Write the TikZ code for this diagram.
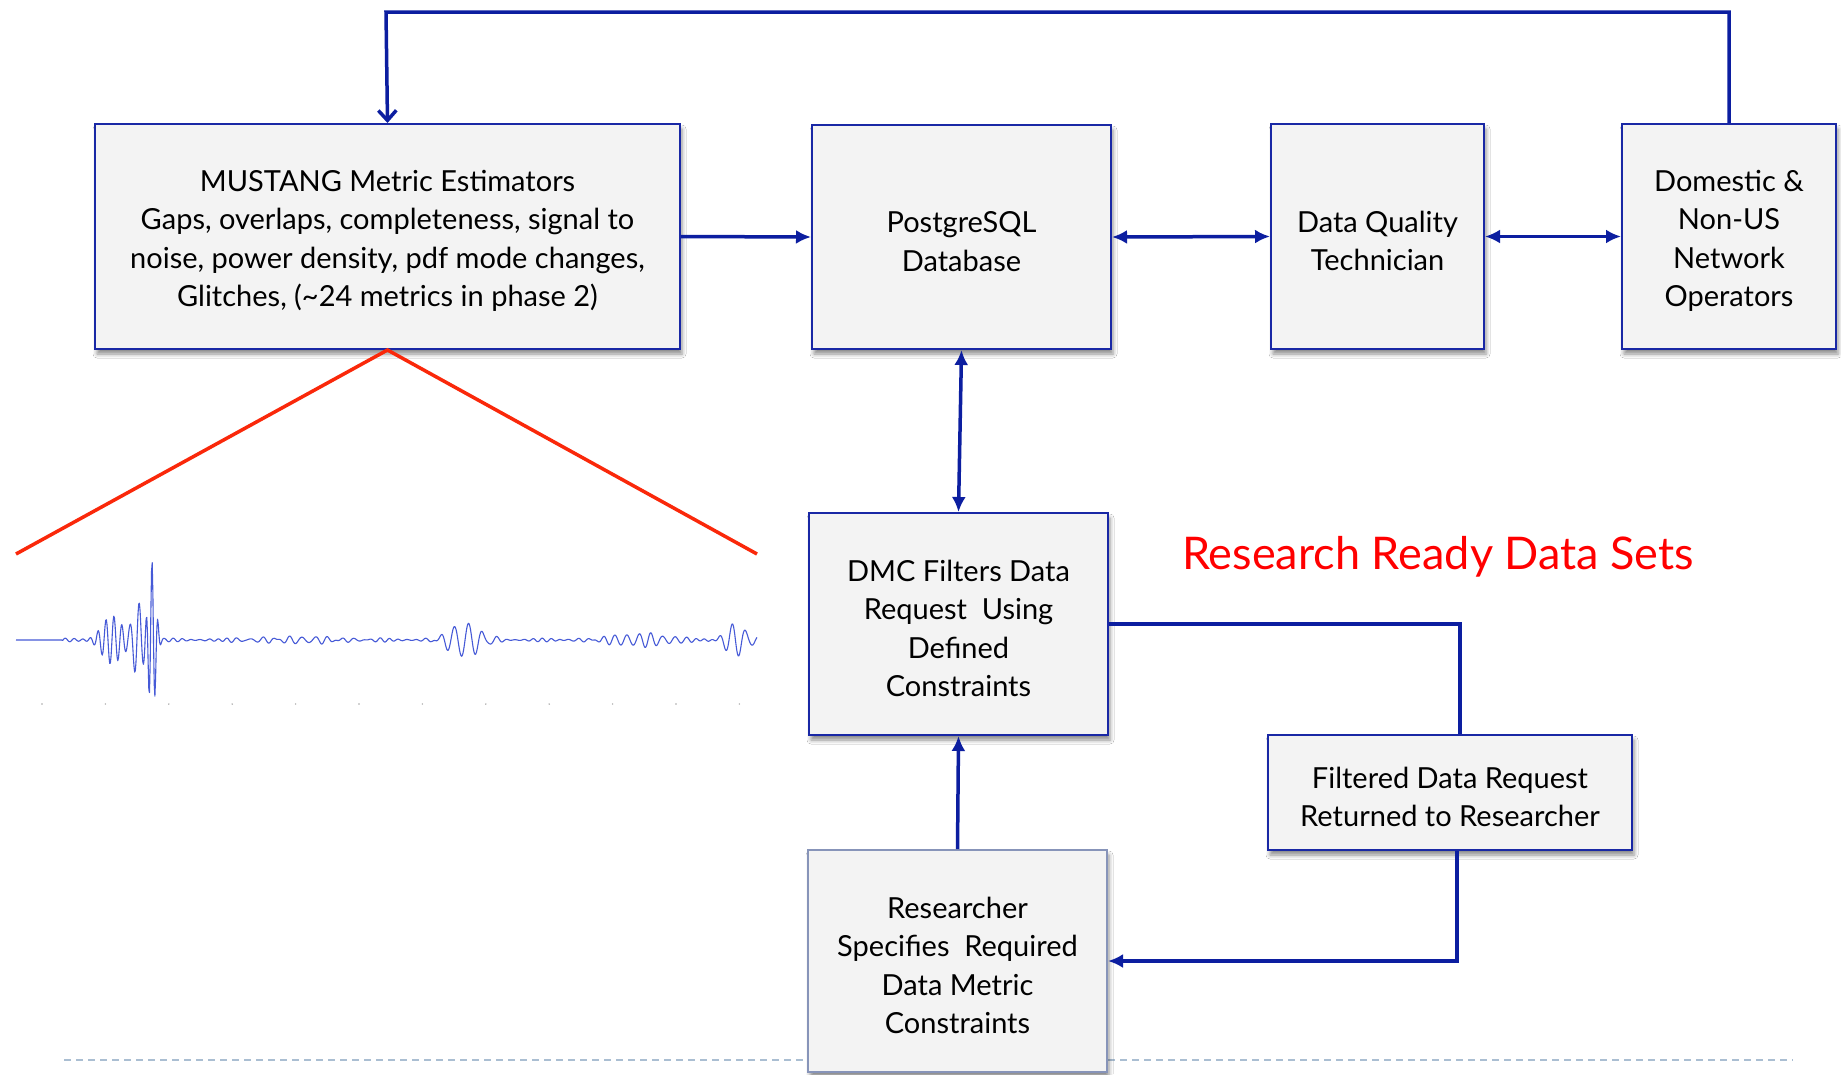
\documentclass[tikz,border=0pt]{standalone}
\usepackage{fontspec}
\setmainfont{Lato}
\usetikzlibrary{arrows.meta,shadows,shadows.blur,calc}

\definecolor{boxblue}{RGB}{25,40,165}
\definecolor{arrblue}{RGB}{12,30,160}
\definecolor{boxfill}{RGB}{243,243,243}
\definecolor{resborder}{RGB}{135,148,185}
\definecolor{redline}{RGB}{250,40,10}
\definecolor{wavec}{RGB}{70,90,215}
\definecolor{dashc}{RGB}{170,190,210}

\newcommand{\tstrut}{\rule{0pt}{30pt}}

\pgfmathdeclarefunction{env}{3}{%
  \pgfmathsetmacro\myenvm{min(abs((#1-#2)/#3),6)}%
  \pgfmathparse{exp(-\myenvm*\myenvm)}}
\pgfmathdeclarefunction{osc}{3}{%
  \pgfmathparse{sin(360/#2*mod(#1-#3,#2))}}
\pgfmathdeclarefunction{seis}{1}{%
  \pgfmathparse{(#1>62)*1.8*osc(#1,9,0)*(0.6+0.4*osc(#1,53,0))
   +26*env(#1,112,14)*osc(#1,8,0)
   +38*env(#1,138,7)*osc(#1,9,2)
   +80*env(#1,152,5)*osc(#1,6,150.5)
   +3*env(#1,300,60)*osc(#1,13,0)
   +17*env(#1,465,22)*osc(#1,14,3)
   +6*env(#1,640,45)*osc(#1,12,0)
   +17*env(#1,736,14)*osc(#1,13,1)}}

\tikzset{
  x=1pt, y=-1pt,
  box/.style={draw=boxblue, fill=boxfill, line width=2pt, align=center,
    inner sep=0pt, anchor=north west, font=\fontsize{29}{38.5}\selectfont,
    blur shadow={shadow xshift=2pt, shadow yshift=-5pt, shadow blur radius=4pt, shadow opacity=45}},
  conn/.style={arrblue, line width=3.5pt},
  >={Latex[length=15pt,width=14pt]},
  redl/.style={redline, line width=3.5pt},
}

\begin{document}
\begin{tikzpicture}
\fill[white] (0,0) rectangle (1841,1074);
\useasboundingbox (0,0) rectangle (1841,1074);

% dashed footer line
\coordinate (dl) at (64,1060);
\coordinate (dr) at (1793,1060);
\draw[dashc, line width=1.5pt, dash pattern=on 7pt off 5pt] (dl) -- (dr);

% waveform
\draw[wavec, line width=1.1pt, line join=round]
  plot[domain=16:757, samples=1100] (\x, {640-seis(\x)});
\foreach \k in {0,...,11}{
  \fill[black!35] ({42+63.4*\k},704) circle (0.8pt);
}

% boxes
\node[box, minimum width=585pt, minimum height=225pt] (must) at (94,123)
  {\tstrut MUSTANG Metric Estimators\\Gaps, overlaps, completeness, signal to\\noise, power density, pdf mode changes,\\Glitches, (\textasciitilde24 metrics in phase 2)};
\node[box, minimum width=299pt, minimum height=224pt] (pg) at (811,124)
  {\tstrut PostgreSQL\\Database};
\node[box, minimum width=213pt, minimum height=225pt] (dq) at (1270,123)
  {\tstrut Data Quality\\Technician};
\node[box, minimum width=214pt, minimum height=225pt] (dom) at (1621,123)
  {\tstrut Domestic \&\\Non-US\\Network\\Operators};
\node[box, minimum width=299pt, minimum height=222pt] (dmc) at (808,512)
  {\tstrut DMC Filters Data\\Request\ \ Using\\Defined\\Constraints};
\node[box, minimum width=364pt, minimum height=115pt] (filt) at (1267,734)
  {\tstrut Filtered Data Request\\Returned to Researcher};
\node[box, draw=resborder, minimum width=299pt, minimum height=222pt] (res) at (807,849)
  {\tstrut Researcher\\Specifies\ \ Required\\Data Metric\\Constraints};

% red zoom lines
\coordinate (rl) at (16,554);
\coordinate (rr) at (757,554);
\draw[redl] (rl) -- (must.south) -- (rr);

% red title
\node[text=red, font=\fontsize{45}{50}\selectfont, anchor=base] (title) at (1438,569)
  {Research Ready Data Sets};

% connectors
\draw[conn,->] (must.east) -- (pg.west);
\draw[conn,<->] (pg.east) -- (dq.west);
\draw[conn,<->] (dq.east) -- (dom.west);
\draw[conn,<->] (pg.south) -- (dmc.north);
\draw[conn] (dmc.east) -| ([xshift=10pt]filt.north);
\draw[conn,->] ([xshift=7pt]filt.south) |- (res.east);
\draw[conn,->] (res.north) -- (dmc.south);
\coordinate (topl) at (386,12);
\draw[conn,-{Straight Barb[length=10pt,width=18pt,line width=3.5pt]}] (dom.north) |- (topl) -- (must.north);
\end{tikzpicture}
\end{document}
